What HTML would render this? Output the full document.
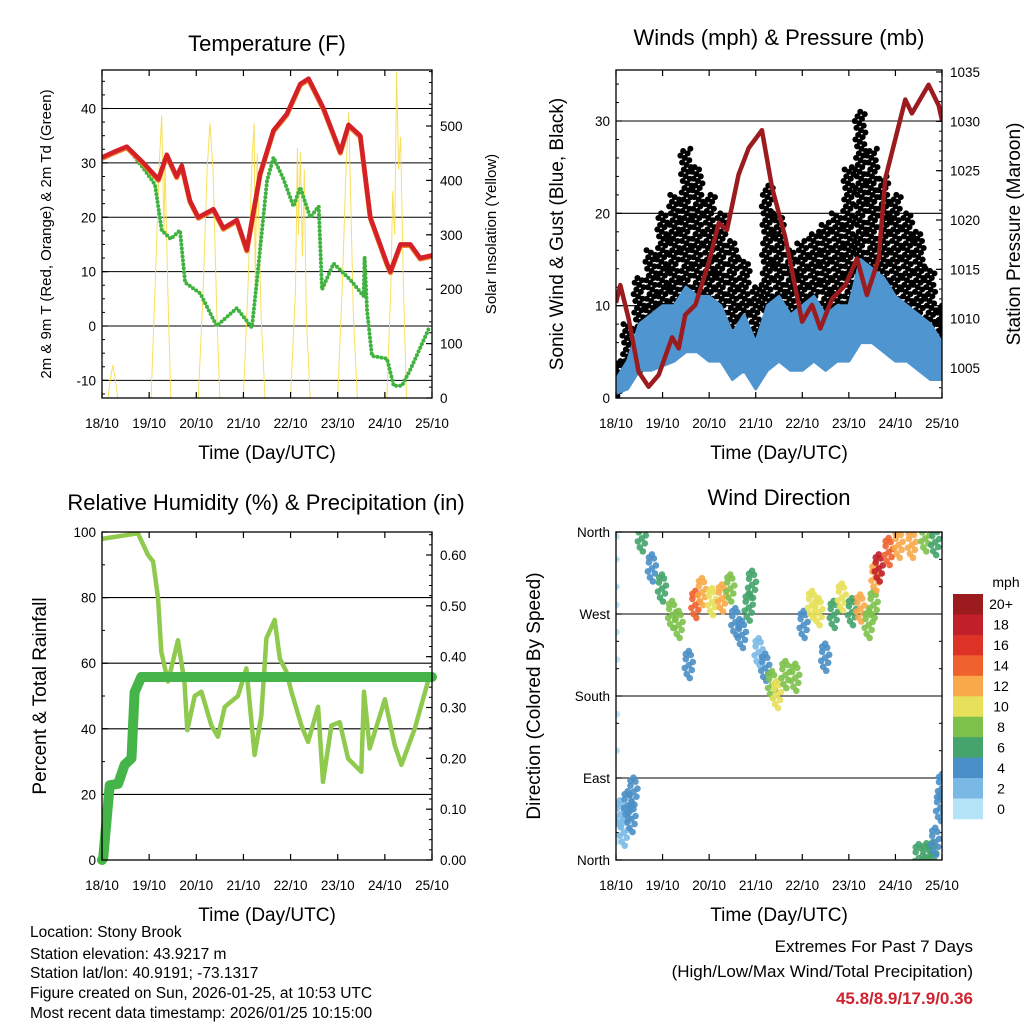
<!DOCTYPE html>
<html><head><meta charset="utf-8">
<style>
html,body{margin:0;padding:0;background:#fff;}
svg{display:block;font-family:"Liberation Sans",Arial,sans-serif;}
</style></head>
<body>
<svg id="c" width="1024" height="1024" viewBox="0 0 1024 1024" xmlns="http://www.w3.org/2000/svg">
<rect width="1024" height="1024" fill="#fff"/>
</svg>
<script>
// ---------- DATA ----------
const dayLabels = ["18/10","19/10","20/10","21/10","22/10","23/10","24/10","25/10"];
// Temperature (F)
const tempHours = [0,6,12.6,21.1,28.7,33,38,40.6,44.8,49,56.7,61.8,68.6,73.7,80.5,87.3,94.1,100.9,105.2,112.8,121.3,125.5,131.5,136.6,145.1,146.8,151.9,157,162,168];
const tempRed   = [31,32,33,30,27,31.5,27.5,29.5,23,20,21.5,18,19.5,14,28,36,39,44.5,45.5,40,32,37,35,20,11.5,10,15,15,12.5,13];
const tdHours = [0,6,12.6,21.1,27,30.4,35,39.7,42.3,50,58.4,68.6,76.3,78.9,84,87.3,92.4,97.5,100.9,106,110.3,112,117.9,126.4,133.2,133.7,134.9,137.4,145.1,148.5,152.7,157,167];
const tdGreen = [31,32,33,29,26,17.6,16,17.6,8,6,0,3.3,-0.3,8.5,26.7,31,27,22,25.5,20,22,6.7,11.5,8.5,5.5,12.7,3,-5.5,-6,-11,-11,-8,0];
const solarHours = [0,3,4.5,5.5,6.5,8,25,27.5,29,30.4,31.5,32,33.5,35,49,51.5,53.5,55,56.5,58.5,60,72,74.5,76.5,77.5,78,79,80,81,83,96,98.5,99.5,100,101,102,103,104,106,120,122.5,124,125.6,126.5,128,130,145,147,148,149,150,151,152,153.5,155,168];
const solarVals  = [0,0,40,60,40,0,0,250,420,520,300,440,200,0,0,200,420,505,420,150,0,0,220,450,505,200,450,300,150,0,0,200,460,300,452,260,420,150,0,0,220,400,525,380,150,0,0,200,380,300,600,420,480,200,0,0];
// Winds (mph) & pressure (mb)
const windHours = [0,6,12,18,24,30,36,42,48,54,60,66,72,78,84,90,96,102,108,114,120,126,132,138,144,150,156,162,168];
const sustLow  = [0.5,1,3,3,3.5,4,5,5,4,4,2,3,1,3,4,3,3,4,3,4,4,6,6,5,4,4,3,2,2];
const sustHigh = [2,4,8,9,10,10,12,11,11,10,7,9,6,10,11,9,10,11,9,10,10,15,14,13,11,10,9,8,6];
const gustLow  = [0,2,3,5,7,8,10,10,9,8,6,3,2,7,8,6,7,6,8,7,9,12,12,10,9,8,7,4,3];
const gustHigh = [4,8,13,16,20,22,27,25,22,20,17,15,12,23,20,16,17,18,19,20,25,31,27,24,22,20,18,14,10];
const presHours = [0,2.2,6.5,11.7,16.8,22,28.9,32.3,35.7,40.9,47.8,52.9,57.2,63.2,68.4,75.2,80.4,87.3,95.9,101,105.3,111.3,118.2,124.2,129.3,135.4,138.8,149.1,152.5,161.1,166.3,168];
const presVals  = [1011.6,1013.4,1010,1004.6,1003.1,1004.3,1008.1,1007,1010.4,1011.4,1015.7,1019.7,1019,1024.6,1027.3,1029.1,1023.3,1018.2,1009.7,1011.4,1009,1012,1013.4,1016.1,1012.4,1016.1,1024.2,1032.2,1030.8,1033.7,1031.6,1030.1];
// RH (%) & rainfall (in)
const rhHours = [0,18.3,23.4,26,28.5,30.2,33.6,38.7,42,43.4,47.2,50.6,55.7,59,62.5,69.2,73.5,77.7,81.1,83.7,87.9,90.5,93.9,96.4,101.5,104.9,110,112.5,116.8,121,125.3,132,133.4,136.3,144,149,152.4,159.2,165.9,168];
const rhVals  = [97.9,99.6,93,91,80,63.5,54.4,67,54,39.6,50,51.3,41,37.6,46.7,50,58.4,32,44,67.6,73.2,61.4,57.4,51.3,41,36,46.7,23.8,41,42,30.9,26.9,51.3,34,49,35,29,40,54.3,56.4];
const rainHours = [0,0.6,3.9,8.2,11.5,15,16.6,20,168];
const rainVals  = [0,0.004,0.147,0.15,0.187,0.2,0.33,0.36,0.36];
// Wind direction (deg) colored by speed (mph)
const dirHours = [0.3,0.3,0.3,0.3,0.3,0.5,0.5,0.5,0.5,0.5,0.5,2,4,6,8,9,13.3,18.5,23.7,28.9,32.3,37.5,40.9,44.3,49.5,54.6,58.9,61.5,64.9,68.4,70.1,73.5,76.9,80.4,83,87.3,92.4,96.7,101,104.4,107.8,112.2,116.4,121.6,125.9,130.2,132.8,133.7,135.4,140.5,145.7,152.5,159.4,164.5,156,160,163,164.5,167,168];
const dirVals  = [355,330,300,280,250,220,160,120,60,40,20,50,30,60,45,75,353,320,298,269,258,214,280,294,283,287,298,261,247,277,302,228,211,192,181,203,200,258,280,272,222,269,288,272,276,258,280,310,320,338,346,346,353,349,2,3,4,20,57,79];
const dirSpeed = [0.5,0.5,0.5,0.5,0.5,0.5,0.5,0.5,0.5,0.5,0.5,1,2,3,4,3,5,4,5,7,7,3,13,11,10,12,8,4,3,5,6,2,3,8,10,7,7,4,9,10,4,6,10,6,12,7,7,12,18,14,12,11,7,5,6,6,5,3,4,4];
const speedLevels = ["0","2","4","6","8","10","12","14","16","18","20+"];
const speedColors = ["#b5e3f8","#7ab9e5","#4a8fc7","#44a46b","#7dc14b","#e7e05a","#f9a84a","#f0622d","#dd3327","#c1202a","#9b1b1e"];

// ---------- HELPERS ----------
const NS="http://www.w3.org/2000/svg";
const svg=document.getElementById('c');
function mk(tag,attrs,parent){const e=document.createElementNS(NS,tag);for(const k in attrs)e.setAttribute(k,attrs[k]);(parent||svg).appendChild(e);return e;}
function txt(s,x,y,size,opts,parent){opts=opts||{};const e=mk('text',{x:x,y:y,'font-size':size,'text-anchor':opts.anchor||'middle',fill:opts.fill||'#000'},parent);if(opts.weight)e.setAttribute('font-weight',opts.weight);if(opts.rot)e.setAttribute('transform','rotate('+opts.rot+' '+x+' '+y+')');e.textContent=s;return e;}
function scale(d0,d1,r0,r1){return v=>r0+(v-d0)/(d1-d0)*(r1-r0);}
function poly(xs,ys,fx,fy){return xs.map((h,i)=>fx(h).toFixed(1)+','+fy(ys[i]).toFixed(1)).join(' ');}

function frame(P,name){
  const g=mk('g',{});
  
  
  const fx=scale(0,168,P.x0,P.x1);
  dayLabels.forEach((d,i)=>{const x=fx(i*24);
    mk('line',{x1:x,y1:P.y1,x2:x,y2:P.y1-6,stroke:'#000','stroke-width':1.2},g);
    mk('line',{x1:x,y1:P.y0,x2:x,y2:P.y0+6,stroke:'#000','stroke-width':1.2},g);
    const t=txt(d,x,P.y1+30,13.5,{},g);
    
    
  });
  mk('rect',{x:P.x0,y:P.y0,width:P.x1-P.x0,height:P.y1-P.y0,fill:'none',stroke:'#000','stroke-width':1.3},g);
  const xt=txt('Time (Day/UTC)',(P.x0+P.x1)/2,P.y1+61,19,{},g);
  
  
  return fx;
}
function leftTicks(P,fy,majors,minors,labels,grid){
  minors.forEach(v=>{const y=fy(v);mk('line',{x1:P.x0,y1:y,x2:P.x0+3,y2:y,stroke:'#000','stroke-width':1});});
  majors.forEach((v,i)=>{const y=fy(v);
    if(grid && y>P.y0+2 && y<P.y1-2) mk('line',{x1:P.x0,y1:y,x2:P.x1,y2:y,stroke:'#000','stroke-width':1.1});
    mk('line',{x1:P.x0,y1:y,x2:P.x0+6,y2:y,stroke:'#000','stroke-width':1.2});
    const t=txt(labels[i],P.x0-6,y+5,13.5,{anchor:'end'});
    
    
  });
}
function rightTicks(P,fy,majors,minors,labels){
  minors.forEach(v=>{const y=fy(v);mk('line',{x1:P.x1,y1:y,x2:P.x1-3,y2:y,stroke:'#000','stroke-width':1});});
  majors.forEach((v,i)=>{const y=fy(v);
    mk('line',{x1:P.x1,y1:y,x2:P.x1-6,y2:y,stroke:'#000','stroke-width':1.2});
    const t=txt(labels[i],P.x1+8,y+5,13.5,{anchor:'start'});
    
    
  });
}
function range(a,b,s){const r=[];for(let v=a;v<=b+1e-9;v+=s)r.push(+v.toFixed(4));return r;}

// ---------- PANEL 1: TEMPERATURE ----------
(function(){
const P={x0:102,x1:432,y0:70,y1:398};
const fx=scale(0,168,P.x0,P.x1);
const fy=scale(0,40,326,108.5);
const fs=scale(0,500,398,126);
const clip=mk('clipPath',{id:'cp1'});mk('rect',{x:P.x0,y:P.y0,width:P.x1-P.x0,height:P.y1-P.y0},clip);
leftTicks(P,fy,[-10,0,10,20,30,40],range(-12.5,45,2.5),["-10","0","10","20","30","40"],true);
rightTicks(P,fs,[0,100,200,300,400,500],range(0,600,20),["0","100","200","300","400","500"]);
const g=mk('g',{'clip-path':'url(#cp1)'});
const sol=mk('polyline',{points:poly(solarHours,solarVals,fx,fs),fill:'none',stroke:'#f7dc4a','stroke-width':1,opacity:0.9},g);


const td=mk('polyline',{points:poly(tdHours,tdGreen,fx,fy),fill:'none',stroke:'#3fb23f','stroke-width':4,'stroke-dasharray':'0 4','stroke-linecap':'round'},g);


const t9=mk('polyline',{points:poly(tempHours,tempRed.map(v=>v-0.2),fx,fy),fill:'none',stroke:'#f0822a','stroke-width':5,'stroke-linejoin':'round'},g);


const t2=mk('polyline',{points:poly(tempHours,tempRed,fx,fy),fill:'none',stroke:'#d42027','stroke-width':4.5,'stroke-linejoin':'round'},g);


frame(P,'temperature');
const ti=txt('Temperature (F)',267,51,22);
const yl=txt('2m & 9m T (Red, Orange) & 2m Td (Green)',51,234,15,{rot:-90});
const yr=txt('Solar Insolation (Yellow)',496,234,15,{rot:-90});
})();

// ---------- PANEL 2: WINDS ----------
(function(){
const P={x0:616,x1:942,y0:70,y1:398};
const fx=scale(0,168,P.x0,P.x1);
const fy=scale(0,30,398,121);
const fp=scale(1005,1035,368,72);
const clip=mk('clipPath',{id:'cp2'});mk('rect',{x:P.x0,y:P.y0,width:P.x1-P.x0,height:P.y1-P.y0},clip);
leftTicks(P,fy,[0,10,20,30],range(0,35,2),["0","10","20","30"],true);
rightTicks(P,fp,[1005,1010,1015,1020,1025,1030,1035],range(1003,1035,1),["1005","1010","1015","1020","1025","1030","1035"]);
const g=mk('g',{'clip-path':'url(#cp2)'});
windHours.forEach((h,i)=>{
  const lo=gustLow[i],hi=gustHigh[i];const n=Math.max(4,Math.round((hi-lo)*4));
  for(let j=0;j<=n;j++){
    const fr=(j*0.6180339+0.31*i)%1;
    const v=lo+(hi-lo)*j/n;const dh=(fr-0.5)*6;
    const c=mk('circle',{cx:fx(Math.min(168,Math.max(0,h+dh))),cy:fy(v),r:3,fill:'#000'},g);
    
    
  }
});
const top=windHours.map((h,i)=>fx(h).toFixed(1)+','+fy(sustHigh[i]).toFixed(1));
const bot=windHours.map((h,i)=>fx(h).toFixed(1)+','+fy(sustLow[i]).toFixed(1)).reverse();
const band=mk('polygon',{points:top.concat(bot).join(' '),fill:'#4f95d0',stroke:'#4f95d0','stroke-width':3,'stroke-linejoin':'round'},g);


const pl=mk('polyline',{points:poly(presHours,presVals,fx,fp),fill:'none',stroke:'#9b1b1e','stroke-width':4.5,'stroke-linejoin':'round'},g);


frame(P,'winds');
const ti=txt('Winds (mph) & Pressure (mb)',779,45,22);
const yl=txt('Sonic Wind & Gust (Blue, Black)',563,234,19,{rot:-90});
const yr=txt('Station Pressure (Maroon)',1020,234,19,{rot:-90});
})();

// ---------- PANEL 3: RH ----------
(function(){
const P={x0:102,x1:432,y0:532,y1:860};
const fx=scale(0,168,P.x0,P.x1);
const fy=scale(0,100,860,532);
const fr=scale(0,0.6,860,555);
const clip=mk('clipPath',{id:'cp3'});mk('rect',{x:P.x0-6,y:P.y0,width:P.x1-P.x0+12,height:P.y1-P.y0+6},clip);
leftTicks(P,fy,[0,20,40,60,80,100],range(0,100,10),["0","20","40","60","80","100"],true);
rightTicks(P,fr,[0,0.1,0.2,0.3,0.4,0.5,0.6],range(0,0.64,0.02),["0.00","0.10","0.20","0.30","0.40","0.50","0.60"]);
const g=mk('g',{'clip-path':'url(#cp3)'});
const rh=mk('polyline',{points:poly(rhHours,rhVals,fx,fy),fill:'none',stroke:'#8fca4e','stroke-width':4.5,'stroke-linejoin':'round'},g);


const rn=mk('polyline',{points:poly(rainHours,rainVals,fx,fr),fill:'none',stroke:'#45b449','stroke-width':10,'stroke-linejoin':'round','stroke-linecap':'round'},g);


frame(P,'humidity');
const ti=txt('Relative Humidity (%) & Precipitation (in)',266,510,22);
const yl=txt('Percent & Total Rainfall',46,696,19,{rot:-90});
})();

// ---------- PANEL 4: WIND DIRECTION ----------
(function(){
const P={x0:616,x1:942,y0:532,y1:860};
const fx=scale(0,168,P.x0,P.x1);
const fy=scale(0,360,860,532);
const clip=mk('clipPath',{id:'cp4'});mk('rect',{x:P.x0,y:P.y0,width:P.x1-P.x0,height:P.y1-P.y0},clip);
leftTicks(P,fy,[0,90,180,270,360],range(0,360,30),["North","East","South","West","North"],true);
rightTicks(P,fy,[],range(0,360,30),[]);
const g=mk('g',{'clip-path':'url(#cp4)'});
const stencil=[[0,0],[-3,-6],[3,5],[-2,9],[2,-10],[-4,3],[4,-3],[0,-14],[1,13],[-3,-11]];
dirHours.forEach((h,i)=>{
  const ci=Math.min(10,Math.max(0,Math.round(dirSpeed[i]/2)));
  const col=speedColors[ci];
  const n=dirSpeed[i]<1?1:stencil.length;
  for(let j=0;j<n;j++){
    const c=mk('circle',{cx:fx(h)+stencil[j][0],cy:fy(dirVals[i])+stencil[j][1],r:3.3,fill:col,opacity:0.9},g);
    
    
  }
});
frame(P,'direction');
const ti=txt('Wind Direction',779,505,22);
const yl=txt('Direction (Colored By Speed)',540,696,19,{rot:-90});
const cb=mk('g',{});


const bh=(819-594)/speedLevels.length;
speedLevels.forEach((lab,i)=>{
  const k=speedLevels.length-1-i;const y=594+i*bh;
  const r=mk('rect',{x:953,y:y,width:30,height:bh+0.3,fill:speedColors[k]},cb);
  
  
  const t=txt(speedLevels[k],1001,y+bh/2+5,14,{},cb);
  
  
});
const u=txt('mph',1006,587,14,{},cb);
})();

// ---------- FOOTER ----------
const info=["Location: Stony Brook","Station elevation: 43.9217 m","Station lat/lon: 40.9191; -73.1317","Figure created on Sun, 2026-01-25, at 10:53 UTC","Most recent data timestamp: 2026/01/25 10:15:00"];
const infoY=[937,959,978,998,1018];
info.forEach((s,i)=>{const t=txt(s,30,infoY[i],15.5,{anchor:'start'});
  
  });
const e1=txt('Extremes For Past 7 Days',973,952,17,{anchor:'end'});
const e2=txt('(High/Low/Max Wind/Total Precipitation)',973,977,17,{anchor:'end'});
const e3=txt('45.8/8.9/17.9/0.36',973,1004,17,{anchor:'end',fill:'#cf2330',weight:'bold'});
</script>
</body></html>
